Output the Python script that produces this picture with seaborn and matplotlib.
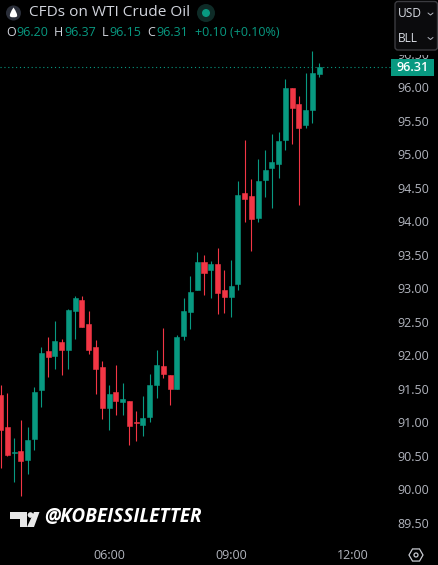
import numpy as np
import pandas as pd
import seaborn as sns
import matplotlib
matplotlib.use("Agg")
import matplotlib.pyplot as plt
from matplotlib.patches import FancyBboxPatch, Rectangle, Circle, Polygon, RegularPolygon, PathPatch
from matplotlib.path import Path

opens = [91.41,90.93,90.55,90.58,90.44,90.75,91.49,92.07,91.99,92.20,92.08,92.66,92.83,92.47,92.13,91.83,
         91.22,91.46,91.31,91.32,91.01,90.96,91.08,91.56,91.84,91.71,91.50,92.29,92.65,92.98,93.40,93.28,
         93.37,92.98,92.87,93.07,94.43,94.38,94.05,94.62,94.80,94.86,95.22,95.99,95.75,95.44,95.66,96.20]
highs = [91.56,91.44,90.77,91.04,90.93,91.53,92.13,92.28,92.52,92.25,92.69,92.89,92.89,92.66,92.23,91.92,
         91.56,91.86,91.59,91.32,91.17,91.40,91.72,92.08,92.41,91.71,92.31,92.86,93.19,93.55,93.50,93.41,
         93.61,93.28,93.43,94.61,95.22,94.64,94.93,95.07,95.31,95.34,96.13,95.99,95.87,96.22,96.55,96.37]
lows = [90.32,90.50,90.11,89.90,90.23,90.59,91.23,91.68,91.80,91.71,91.80,92.25,92.43,92.02,91.43,91.05,
        90.89,91.11,91.11,90.66,90.72,90.80,91.01,91.37,91.66,91.26,91.50,92.23,92.40,92.98,92.90,92.86,
        92.62,92.64,92.58,92.98,93.99,93.56,93.99,94.37,94.20,94.65,95.07,95.16,94.25,95.40,95.47,96.15]
closes = [90.89,90.52,90.56,90.43,90.74,91.46,92.04,91.98,92.22,92.08,92.68,92.86,92.43,92.08,91.80,91.22,
          91.43,91.32,91.35,90.95,90.99,91.07,91.56,91.86,91.72,91.50,92.28,92.66,92.95,93.40,93.23,93.37,
          92.93,92.87,93.04,94.40,94.34,94.04,94.61,94.77,94.89,95.20,95.99,95.69,95.40,95.66,96.22,96.31]
price_ticks = [89.5,90,90.5,91,91.5,92,92.5,93,93.5,94,94.5,95,95.5,96,96.5]
time_ticks = [16,34,52]
time_labels = ["06:00","09:00","12:00"]
last_price = 96.31

GREEN, RED = "#089981", "#F23645"
TXT = "#b2b5be"
W, H = 439, 565

sns.set_style("dark", {"axes.facecolor": "black", "figure.facecolor": "black"})
plt.rcParams["font.family"] = ["Open Sans", "DejaVu Sans"]

fig = plt.figure(figsize=(W/100, H/100), dpi=100, facecolor="black")
ax = fig.add_axes([0, 24/H, 392/W, 541/H], facecolor="black")

n = len(opens)
idx = np.arange(n)
df = pd.DataFrame({"candle": idx, "open": opens, "high": highs, "low": lows, "close": closes})
df["dir"] = np.where(df["close"] >= df["open"], "up", "down")
wicks = df.melt(id_vars=["candle", "dir"], value_vars=["low", "high"], value_name="price")
palette = {"up": GREEN, "down": RED}
sns.lineplot(data=wicks, x="candle", y="price", hue="dir", units="candle", estimator=None,
             palette=palette, legend=False, lw=0.8, solid_capstyle="butt", ax=ax, zorder=2)
ax.bar(df["candle"], (df["close"]-df["open"]).abs(), bottom=df[["open", "close"]].min(axis=1),
       width=0.74, color=df["dir"].map(palette), edgecolor=df["dir"].map(palette), linewidth=0.4, zorder=3)

ax.axhline(last_price, color=GREEN, lw=0.8, ls=(0, (1, 2.5)), zorder=1)
ax.set_xlim(-0.0885, 57.73)
ax.set_ylim(89.231, 97.306)
ax.grid(False)
for s in ax.spines.values():
    s.set_visible(False)
ax.set_xlabel(""); ax.set_ylabel("")
ax.yaxis.tick_right()
ax.set_yticks(price_ticks, [f"{v:.2f}" for v in price_ticks])
ax.set_xticks(time_ticks, time_labels)
ax.tick_params(axis="y", length=0, pad=4, labelsize=9, colors=TXT, right=False)
ax.tick_params(axis="x", length=0, pad=6, labelsize=9, colors=TXT, bottom=False)

# overlay in pixel coordinates
ov = fig.add_axes([0, 0, 1, 1], facecolor="none")
ov.set_xlim(0, W); ov.set_ylim(H, 0); ov.axis("off")

def t(x, y, s, c=TXT, size=9, **kw):
    kw.setdefault("va", "center")
    ov.text(x, y, s, color=c, fontsize=size, **kw)

# price tag
ov.add_patch(Rectangle((391, 59), 43, 17, fc=GREEN, ec="none"))
t(413, 67.3, "96.31", "white", 9, ha="center", fontweight="semibold")

# unit box, with the mask that cuts the top price label
ov.add_patch(Rectangle((394, 0), 45, 54.5, fc="#000000", ec="none", zorder=4))
ov.add_patch(FancyBboxPatch((395, 1.5), 42.5, 48.5, boxstyle="round,pad=0,rounding_size=3",
                            fc="#0b0b0d", ec="#3b3b40", lw=1, zorder=5))
t(398, 13.5, "USD", "#d8dbe3", 8.6, zorder=6)
t(398, 38, "BLL", "#d8dbe3", 8.6, zorder=6)
for cy in (14, 38.5):
    ov.plot([428, 430.5, 433], [cy-1, cy+1, cy-1], color="#b2b5be", lw=0.7, zorder=6)

# header
ov.add_patch(Circle((13.5, 13), 7.5, fc="#2a2e39", ec="none"))
ov.add_patch(PathPatch(Path([(13.5, 7.5), (9, 14), (10, 16.5), (13.5, 18.5), (17, 16.5), (18, 14), (13.5, 7.5)],
                            [Path.MOVETO, Path.CURVE3, Path.CURVE3, Path.CURVE3, Path.CURVE3, Path.CURVE3, Path.CURVE3]),
                       fc="white", ec="none"))
t(29, 13, "CFDs on WTI Crude Oil", "#d1d4dc", 11.1)
ov.add_patch(Circle((206, 13), 9, fc="#0e2b27", ec="none"))
ov.add_patch(Circle((206, 13), 4, fc=GREEN, ec="none"))
for x, s, c in [(6, "O", "#d1d4dc"), (16, "96.20", GREEN), (54, "H", "#d1d4dc"), (64, "96.37", GREEN),
                (102, "L", "#d1d4dc"), (109, "96.15", GREEN), (147, "C", "#d1d4dc"), (156, "96.31", GREEN),
                (195, "+0.10 (+0.10%)", GREEN)]:
    t(x, 33, s, c, 9)

# watermark
ov.add_patch(Polygon([(10, 512), (27, 512), (27, 527), (20, 527), (20, 519), (10, 519)], fc="#e8e8e8", ec="none"))
ov.add_patch(Circle((30.5, 515), 2.8, fc="#e8e8e8", ec="none"))
ov.add_patch(Polygon([(34, 512), (39.5, 512), (34, 527), (27, 527)], fc="#e8e8e8", ec="none"))
t(44, 517.5, "@KOBEISSILETTER", "white", 13.6, fontweight="bold", fontstyle="italic")

# settings icon
ov.add_patch(RegularPolygon((416, 555), 6, radius=7, orientation=np.pi/6, fc="none", ec="#c8cad0", lw=0.9))
ov.add_patch(Circle((416, 555), 2, fc="none", ec="#c8cad0", lw=0.9))

fig.savefig("out.png", dpi=100, facecolor="black")
